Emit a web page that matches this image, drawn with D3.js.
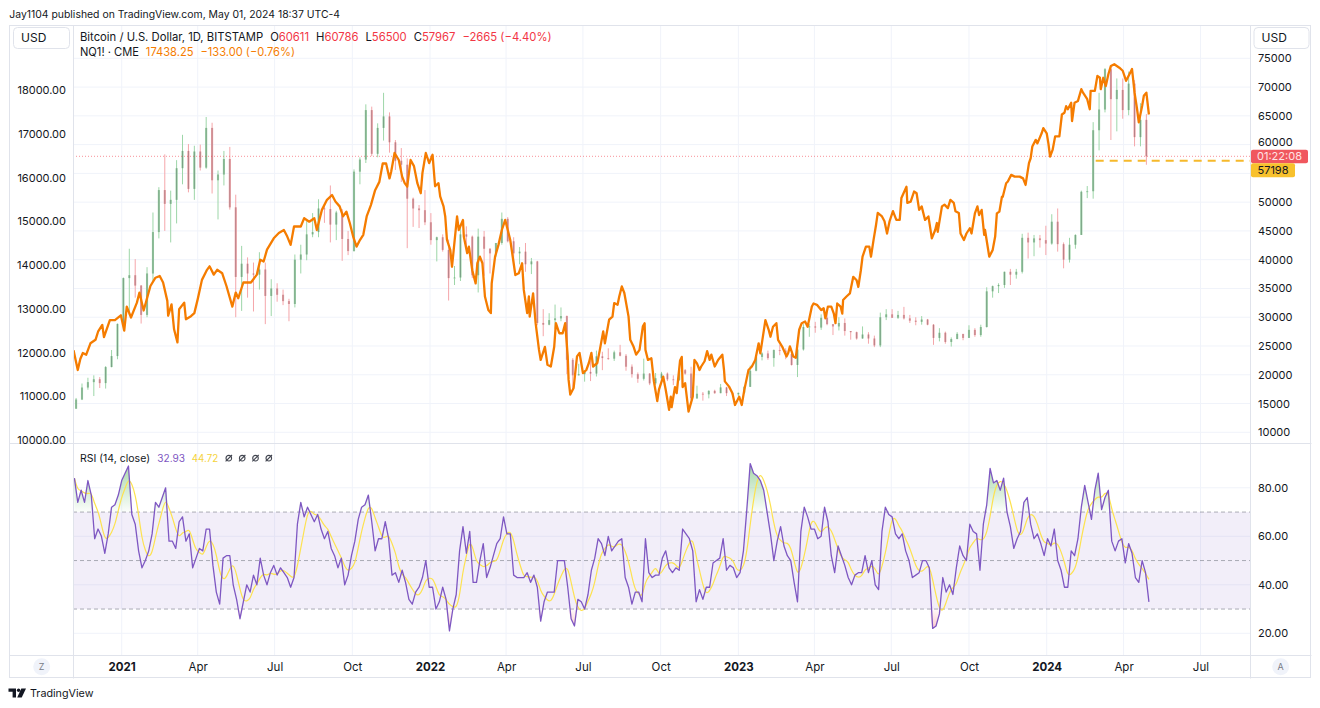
<!DOCTYPE html>
<html><head><meta charset="utf-8">
<script src="https://cdn.jsdelivr.net/npm/d3@7"></script>
<style>
html,body{margin:0;padding:0;background:#fff;}
svg{display:block;font-family:Inter,"Noto Sans","Liberation Sans",sans-serif;}
</style></head><body>
<svg id="c" width="1320" height="708"></svg>
<script>
// ---------------- DATA ----------------
const timeTickDates = ["2021-01-01","2021-04-01","2021-07-01","2021-10-01","2022-01-01","2022-04-01","2022-07-01","2022-10-01","2023-01-01","2023-04-01","2023-07-01","2023-10-01","2024-01-01","2024-04-01","2024-07-01"];
const timeTickLabels = ["2021","Apr","Jul","Oct","2022","Apr","Jul","Oct","2023","Apr","Jul","Oct","2024","Apr","Jul"];
const leftTicks = [10000,11000,12000,13000,14000,15000,16000,17000,18000];
const rightGrid = [10000,15000,20000,25000,30000,35000,40000,45000,50000,55000,60000,65000,70000,75000];
// 55000 label is hidden behind the price labels in the reference
const rightTickLabels = [10000,15000,20000,25000,30000,35000,40000,45000,50000,60000,65000,70000,75000];
const rsiTicks = [20,40,60,80];
const rsiLevels = [70,50,30];

// BTC weekly candles (open, high, low, close), weeks starting 2020-11-05
const btcWeekStart = "2020-11-05";
const btcWeeklyOHLC = [
[14100,15970,14100,15700],[15700,18480,15600,17780],[17780,19480,17400,18720],[18720,19900,16300,19220],[19220,19600,17700,18550],
[18550,21500,17600,21340],[21340,24300,21300,23250],[23250,28900,22700,28840],[28840,36900,27700,36800],[36800,41900,30400,37300],
[37300,40100,33400,35500],[35500,35600,28900,30400],[30400,38700,30000,37600],[37600,48200,36200,44800],[44800,52600,43700,52100],
[52100,58300,45000,49700],[49700,52000,43000,50400],[50400,57300,46300,55900],[55900,61700,53100,58900],[58900,60100,51700,52300],
[52300,59800,50400,58800],[58800,60000,55500,56000],[56000,64800,55800,62900],[62900,63800,51500,53800],[53800,55500,47000,54800],
[54800,58900,52900,57500],[57500,59600,48700,49100],[49100,51300,30000,37000],[37000,42400,31100,39300],[39300,40400,33400,37600],
[37600,39500,31000,37400],[37400,41300,34800,38300],[38300,39500,28800,33700],[33700,36600,30200,35000],[35000,35900,32700,33900],
[33900,34800,32100,32800],[32800,33200,29300,32300],[32300,40900,31700,40000],[40000,42600,37600,40900],[40900,46700,39900,44400],
[44400,48100,43900,44800],[44800,50500,43900,48900],[48900,49800,46400,48800],[48800,52900,43000,46100],[46100,48500,43400,48200],
[48200,48800,39800,43600],[43600,45000,40800,41500],[41500,55700,41400,55300],[55300,57800,53100,57400],[57400,67000,56800,66000],
[66000,66600,58000,58400],[58400,63700,57800,62900],[62900,69000,60700,64900],[64900,65600,58600,60400],[60400,60800,55600,57200],
[57200,59400,53500,56500],[56500,57600,42000,50600],[50600,50800,45700,48900],[48900,49500,45500,48600],[48600,52100,46000,46500],
[46500,48100,42600,43400],[43400,44000,39700,43900],[43900,44400,41400,41700],[41700,43500,32900,36800],[36800,38900,35600,36900],
[36900,45500,36300,44400],[44400,45800,41700,44000],[44000,44200,36800,37300],[37300,45400,34300,44000],[44000,45000,37200,41900],
[41900,42000,37600,41100],[41100,42900,40500,42900],[42900,48200,42600,47100],[47100,47400,43000,43200],[43200,43900,39300,41100],
[41100,42200,39200,41400],[41400,42900,37900,39200],[39200,40300,37500,39700],[39700,39800,28600,29000],[29000,31400,26700,28700],
[28700,30700,28600,29500],[29500,32200,28000,29800],[29800,31700,29300,30200],[30200,30300,20100,22600],[22600,22900,17600,19900],
[19900,21900,19900,20100],[20100,20800,18800,20500],[20500,22500,18900,20200],[20200,24200,19700,23200],[23200,24000,20800,22900],
[22900,24600,22600,22800],[22800,24200,22400,23900],[23900,25200,23200,23300],[23300,23600,20700,21400],[21400,21800,19500,20100],
[20100,20400,18600,19300],[19300,22800,19000,20200],[20200,20300,18200,18500],[18500,20300,18200,19400],[19400,20500,18900,20200],
[20200,20400,18900,19200],[19200,19900,18200,19100],[19100,20900,18900,20800],[20800,21000,20000,20200],[20200,21400,15600,15900],
[15900,18100,15800,16700],[16700,17000,15500,16600],[16600,17300,15900,17200],[17200,17400,16700,16800],[16800,18400,16800,17800],
[17800,17900,16300,16800],[16800,17000,16500,16600],[16600,16900,16300,16850],[16850,18000,16700,17900],[17900,21600,17900,20700],
[20700,23300,20600,23100],[23100,23900,22500,23700],[23700,24200,22600,22900],[22900,24400,21400,24300],[24300,25200,23400,24200],
[24200,24600,22700,23600],[23600,23800,21600,21700],[21700,26500,19600,24400],[24400,28800,24200,28300],[28300,28800,26600,28400],
[28400,29200,27300,28200],[28200,30500,27800,29900],[29900,31000,28600,28800],[28800,28800,26900,28400],[28400,30000,27700,29000],
[29000,29800,26800,27600],[27600,27600,26100,27400],[27400,27500,26100,26300],[26300,28400,26300,27000],[27000,27400,25400,26300],
[26300,26800,24800,25100],[25100,30800,24800,30000],[30000,31400,29500,30500],[30500,31400,29900,29900],[29900,31100,29700,30400],
[30400,31800,29600,29800],[29800,30400,29000,29400],[29400,30000,28600,29200],[29200,30200,28700,29600],[29600,29700,28600,28700],
[28700,28800,25200,26400],[26400,28100,25800,27300],[27300,27500,25400,25700],[25700,26500,24900,26200],[26200,27400,26200,27100],
[27100,27100,26000,26400],[26400,28600,26400,27800],[27800,28100,26600,26900],[26900,28700,26600,28300],[28300,35200,28200,34500],
[34500,35500,33400,35400],[35400,35900,34200,35600],[35600,37900,35100,37900],[37900,38400,35600,37400],[37400,38400,36700,37900],
[37900,44500,37600,43800],[43800,44700,40200,43000],[43000,44300,40600,43700],[43700,44300,42100,43400],[43400,45900,40800,42800],
[42800,47900,42600,46600],[46600,48900,41400,42700],[42700,43000,38500,40000],[40000,43800,39500,42600],[42600,44400,41900,44300],
[44300,52000,44300,51800],[51800,52800,50700,51900],[51900,63900,50600,62500],[62500,69000,59000,66100],[66100,73300,65600,73100],
[73100,73800,60800,67900],[67900,71500,62300,69500],[69500,71500,64500,66000],[66000,72700,65100,70600],[70600,71200,59700,61300],
[61300,67200,59700,64300],[64300,65300,56500,57967]
];

// NQ1! (CME) closes: [date, value]
const nqSeries = [
["2020-11-05",12050],["2020-11-10",11600],["2020-11-13",11850],["2020-11-16",11990],["2020-11-20",11950],["2020-11-25",12210],["2020-12-01",12290],["2020-12-04",12475],["2020-12-09",12630],["2020-12-11",12350],["2020-12-18",12740],["2020-12-24",12740],["2020-12-31",12850],
["2021-01-04",12500],["2021-01-07",13050],["2021-01-12",12800],["2021-01-19",13140],["2021-01-22",13370],["2021-01-27",12960],["2021-02-04",13520],["2021-02-10",13710],["2021-02-15",13750],["2021-02-19",13600],["2021-02-24",13180],["2021-02-25",12840],["2021-03-01",13100],["2021-03-04",12530],["2021-03-08",12230],["2021-03-10",12990],["2021-03-16",13140],["2021-03-18",12760],["2021-03-24",12830],["2021-03-28",12900],["2021-04-01",13220],["2021-04-06",13660],["2021-04-12",13890],["2021-04-15",13970],["2021-04-20",13780],["2021-04-24",13890],["2021-04-30",13810],["2021-05-05",13520],["2021-05-12",13050],["2021-05-16",13370],["2021-05-19",13240],["2021-05-25",13600],["2021-06-03",13600],["2021-06-10",13780],["2021-06-14",14120],["2021-06-18",14080],["2021-06-22",14350],["2021-06-30",14610],["2021-07-06",14730],["2021-07-12",14800],["2021-07-16",14650],["2021-07-20",14460],["2021-07-24",14880],["2021-08-01",14880],["2021-08-05",15070],["2021-08-11",14990],["2021-08-17",15070],["2021-08-20",14800],["2021-08-26",15260],["2021-09-01",15490],["2021-09-07",15600],["2021-09-11",15450],["2021-09-16",15340],["2021-09-20",15110],["2021-09-24",15220],["2021-09-28",14960],["2021-10-02",14650],["2021-10-06",14420],["2021-10-10",14570],["2021-10-14",14690],["2021-10-18",15110],["2021-10-23",15370],["2021-10-28",15710],["2021-11-02",15900],["2021-11-06",16320],["2021-11-10",16320],["2021-11-14",15980],["2021-11-16",16130],["2021-11-20",16560],["2021-11-25",16400],["2021-11-29",16020],["2021-12-02",15870],["2021-12-05",15790],["2021-12-09",16400],["2021-12-13",16260],["2021-12-17",15870],["2021-12-21",15640],["2021-12-23",16100],["2021-12-27",16560],["2021-12-31",16330],
["2022-01-04",16520],["2022-01-07",15800],["2022-01-11",15870],["2022-01-13",15570],["2022-01-17",15340],["2022-01-19",15110],["2022-01-21",14580],["2022-01-25",14340],["2022-01-27",13960],["2022-01-29",14340],["2022-02-02",15110],["2022-02-04",14800],["2022-02-09",15030],["2022-02-10",14650],["2022-02-14",14270],["2022-02-16",14420],["2022-02-20",13880],["2022-02-24",13580],["2022-02-26",14040],["2022-03-01",14190],["2022-03-04",14040],["2022-03-07",13280],["2022-03-11",12970],["2022-03-14",12900],["2022-03-15",13580],["2022-03-19",14190],["2022-03-23",14460],["2022-03-27",14800],["2022-03-31",15030],["2022-04-06",14570],["2022-04-10",14040],["2022-04-12",13770],["2022-04-16",13810],["2022-04-20",14040],["2022-04-22",13430],["2022-04-26",12900],["2022-04-28",13280],["2022-04-29",12820],["2022-05-03",13350],["2022-05-06",12670],["2022-05-10",12060],["2022-05-12",11830],["2022-05-17",12130],["2022-05-20",11720],["2022-05-24",11680],["2022-05-28",12130],["2022-05-30",12670],["2022-06-03",12440],["2022-06-07",12440],["2022-06-10",12670],["2022-06-13",11910],["2022-06-14",11380],["2022-06-16",11040],["2022-06-20",11190],["2022-06-24",11910],["2022-06-27",11990],["2022-07-01",11530],["2022-07-05",11600],["2022-07-08",11760],["2022-07-11",11990],["2022-07-13",11680],["2022-07-18",11760],["2022-07-21",12060],["2022-07-25",12480],["2022-07-27",12210],["2022-08-01",12750],["2022-08-05",12820],["2022-08-07",13130],["2022-08-11",13090],["2022-08-13",13280],["2022-08-16",13510],["2022-08-19",13360],["2022-08-24",12820],["2022-08-26",12290],["2022-08-30",12130],["2022-09-02",11950],["2022-09-06",12060],["2022-09-10",12600],["2022-09-12",12670],["2022-09-13",12060],["2022-09-16",11830],["2022-09-20",11870],["2022-09-23",11340],["2022-09-27",10890],["2022-09-29",11150],["2022-10-04",11450],["2022-10-07",11150],["2022-10-11",10690],["2022-10-13",10990],["2022-10-14",10750],["2022-10-18",11210],["2022-10-20",11070],["2022-10-24",11820],["2022-10-26",11900],["2022-10-27",11210],["2022-10-30",11300],["2022-11-03",10650],["2022-11-08",10990],["2022-11-10",11830],["2022-11-13",11750],["2022-11-16",11600],["2022-11-18",11680],["2022-11-22",11800],["2022-11-25",12030],["2022-11-28",11830],["2022-11-30",11950],["2022-12-04",11680],["2022-12-08",11830],["2022-12-13",11950],["2022-12-15",11600],["2022-12-16",11340],["2022-12-21",11220],["2022-12-25",11070],["2022-12-28",10800],
["2023-01-02",10990],["2023-01-05",10800],["2023-01-08",11140],["2023-01-13",11600],["2023-01-17",11680],["2023-01-21",11830],["2023-01-25",12210],["2023-01-27",11980],["2023-02-02",12740],["2023-02-06",12510],["2023-02-08",12360],["2023-02-11",12590],["2023-02-15",12670],["2023-02-17",12290],["2023-02-22",12130],["2023-02-27",11910],["2023-03-01",11990],["2023-03-03",12140],["2023-03-07",11910],["2023-03-10",11880],["2023-03-14",12520],["2023-03-17",12670],["2023-03-21",12710],["2023-03-24",12590],["2023-03-29",13050],["2023-03-31",13120],["2023-04-04",13090],["2023-04-09",12970],["2023-04-12",13010],["2023-04-14",12780],["2023-04-17",13050],["2023-04-21",13050],["2023-04-24",12890],["2023-04-26",12670],["2023-04-28",13120],["2023-05-02",13050],["2023-05-04",12890],["2023-05-05",13200],["2023-05-09",13280],["2023-05-13",13350],["2023-05-17",13730],["2023-05-21",13650],["2023-05-23",13500],["2023-05-26",13880],["2023-05-28",14190],["2023-06-01",14420],["2023-06-05",14420],["2023-06-07",14190],["2023-06-10",14570],["2023-06-13",14920],["2023-06-15",15190],["2023-06-20",15110],["2023-06-23",15000],["2023-06-26",14720],["2023-06-29",15000],["2023-07-03",15230],["2023-07-07",15030],["2023-07-11",15030],["2023-07-13",15530],["2023-07-19",15790],["2023-07-20",15420],["2023-07-24",15450],["2023-07-28",15680],["2023-07-31",15640],["2023-08-03",15260],["2023-08-06",15340],["2023-08-10",15030],["2023-08-14",15110],["2023-08-18",14610],["2023-08-22",14800],["2023-08-24",14960],["2023-08-25",14760],["2023-08-30",15340],["2023-09-02",15380],["2023-09-06",15300],["2023-09-09",15490],["2023-09-13",15420],["2023-09-15",15230],["2023-09-19",15190],["2023-09-21",14720],["2023-09-25",14570],["2023-09-28",14720],["2023-10-02",14840],["2023-10-04",14720],["2023-10-08",15180],["2023-10-11",15340],["2023-10-13",15140],["2023-10-16",15260],["2023-10-19",14690],["2023-10-20",14800],["2023-10-25",14190],["2023-10-29",14340],["2023-11-01",14650],["2023-11-03",15180],["2023-11-06",15220],["2023-11-09",15560],["2023-11-10",15560],["2023-11-14",15870],["2023-11-16",15910],["2023-11-20",16060],["2023-11-24",16020],["2023-11-30",16020],["2023-12-04",15980],["2023-12-07",15830],["2023-12-11",16330],["2023-12-13",16440],["2023-12-15",16710],["2023-12-19",16860],["2023-12-21",16780],["2023-12-26",17010],["2023-12-28",17130],
["2024-01-01",17010],["2024-01-03",16780],["2024-01-05",16480],["2024-01-08",16630],["2024-01-11",16940],["2024-01-16",16940],["2024-01-19",17440],["2024-01-22",17480],["2024-01-24",17630],["2024-01-26",17560],["2024-01-30",17710],["2024-01-31",17290],["2024-02-03",17710],["2024-02-07",17750],["2024-02-11",18020],["2024-02-13",17940],["2024-02-18",17790],["2024-02-21",17560],["2024-02-22",17980],["2024-02-27",17980],["2024-03-01",18320],["2024-03-04",18280],["2024-03-05",18020],["2024-03-08",18280],["2024-03-11",18090],["2024-03-14",18360],["2024-03-17",18550],["2024-03-21",18590],["2024-03-27",18510],["2024-03-31",18440],["2024-04-04",18210],["2024-04-09",18400],["2024-04-11",18480],["2024-04-14",17940],["2024-04-17",17560],["2024-04-19",17260],["2024-04-23",17640],["2024-04-25",17870],["2024-04-28",17940],["2024-05-01",17440]
];

// RSI(14, close) every 4 days starting 2020-11-06
const rsiStart = "2020-11-06";
const rsiStepDays = 4;
const rsiValues = [
84,74,79,74,83,77,59,63,60,53,61,72,73,77,83,86,89,69,65,54,
47,50,54,61,74,72,76,80,58,58,55,66,68,58,61,47,51,55,54,63,
63,48,37,32,51,52,52,40,34,26,33,40,37,44,40,51,44,40,45,48,
44,47,45,43,39,43,65,74,68,72,69,66,69,63,59,62,55,52,47,51,
40,44,52,58,67,72,73,77,66,54,59,59,66,59,44,45,41,46,41,34,
32,37,39,43,50,39,39,30,33,39,34,21,30,36,54,64,53,62,41,41,
50,57,43,47,52,57,59,68,61,61,44,43,43,43,45,41,44,39,25,33,
37,37,37,50,50,50,39,26,23,34,33,30,36,46,51,59,57,52,60,54,
56,58,59,43,39,32,37,37,33,59,45,43,44,44,51,54,47,45,47,46,
63,61,59,54,33,38,34,39,39,49,50,51,59,46,48,47,43,45,54,71,
90,86,85,83,79,70,61,50,58,64,56,52,50,41,33,62,72,68,63,63,
59,60,72,66,52,45,56,52,48,43,40,44,45,45,52,45,50,40,38,62,
72,69,68,61,59,61,54,50,43,44,45,50,50,47,22,23,28,43,37,40,
36,47,56,52,50,65,62,61,46,65,73,88,82,83,79,84,70,64,55,59,
62,74,76,65,59,61,57,52,59,56,63,50,46,39,39,54,52,59,72,81,
74,67,79,86,71,76,79,58,54,58,59,49,57,53,43,41,50,45,32.93
];
const rsiLastValue = "32.93";
const rsiMALastValue = "44.72";

const lastPrice = 57967;
const hLineValue = 57198;
const hLineStart = "2024-02-28";

// ---------------- DRAW ----------------
const parse = d3.utcParse("%Y-%m-%d");
const DAY = 864e5;
const P = {l:73, r:1250, t:25, mb:443, rb:655, fl:9, fr:1311, fb:678};
const x = d3.scaleUtc().domain([parse("2021-01-01"), parse("2024-01-01")]).range([121.7, 1046.7]);
const yB = d3.scaleLinear().domain([10000,75000]).range([432.3,58.3]);
const yN = d3.scaleLinear().domain([10000,18000]).range([440,90]);
const yR = d3.scaleLinear().domain([20,80]).range([633.3,487.8]);

const TXT = "#131722", BORDER = "#e0e3eb", GRID = "#f0f3fa";
const svg = d3.select("#c");
const defs = svg.append("defs");
defs.append("clipPath").attr("id","cm").append("rect").attr("x",P.l).attr("y",P.t).attr("width",P.r-P.l).attr("height",P.mb-P.t);
defs.append("clipPath").attr("id","cr").append("rect").attr("x",P.l).attr("y",P.mb).attr("width",P.r-P.l).attr("height",P.rb-P.mb);
const gG = defs.append("linearGradient").attr("id","gOB").attr("gradientUnits","userSpaceOnUse").attr("x1",0).attr("x2",0).attr("y1",yR(92)).attr("y2",yR(70));
gG.append("stop").attr("offset",0).attr("stop-color","#4caf50").attr("stop-opacity",0.55);
gG.append("stop").attr("offset",1).attr("stop-color","#4caf50").attr("stop-opacity",0.02);
const gR = defs.append("linearGradient").attr("id","gOS").attr("gradientUnits","userSpaceOnUse").attr("x1",0).attr("x2",0).attr("y1",yR(30)).attr("y2",yR(15));
gR.append("stop").attr("offset",0).attr("stop-color","#f23645").attr("stop-opacity",0.02);
gR.append("stop").attr("offset",1).attr("stop-color","#f23645").attr("stop-opacity",0.5);

function fit(t, w){ const fs=parseFloat(t.attr("font-size")); const cw=t.node().getComputedTextLength(); if(cw>0) t.attr("font-size", (fs*w/cw).toFixed(2)); return t; }

// grid
const tDates = timeTickDates.map(parse);
svg.append("g").selectAll("line").data(tDates).join("line")
  .attr("x1",d=>x(d)).attr("x2",d=>x(d)).attr("y1",P.t).attr("y2",P.rb).attr("stroke",GRID);
svg.append("g").selectAll("line").data(rightGrid).join("line")
  .attr("x1",P.l).attr("x2",P.r).attr("y1",d=>yB(d)).attr("y2",d=>yB(d)).attr("stroke",GRID);
svg.append("g").selectAll("line").data(rsiTicks).join("line")
  .attr("x1",P.l).attr("x2",P.r).attr("y1",d=>yR(d)).attr("y2",d=>yR(d)).attr("stroke",GRID);

// RSI band + levels
const rp = svg.append("g").attr("clip-path","url(#cr)");
rp.append("rect").attr("x",P.l).attr("width",P.r-P.l).attr("y",yR(70)).attr("height",yR(30)-yR(70)).attr("fill","#7e57c2").attr("fill-opacity",0.1);
rp.selectAll("line.lv").data(rsiLevels).join("line").attr("class","lv")
  .attr("x1",P.l).attr("x2",P.r).attr("y1",d=>yR(d)).attr("y2",d=>yR(d))
  .attr("stroke","#787b86").attr("stroke-opacity",0.6).attr("stroke-dasharray","4,3");

// candles
const ws = parse(btcWeekStart);
const candles = btcWeeklyOHLC.map((r,i)=>({t:new Date(+ws + (i*7+3)*DAY), o:r[0],h:r[1],l:r[2],c:r[3]}));
const bw = (x(new Date(+ws+7*DAY)) - x(ws))*0.36;
const mp = svg.append("g").attr("clip-path","url(#cm)");
const cg = mp.append("g");
const col = d=> d.c>=d.o ? "#9dd6a8" : "#f5a6aa";
cg.selectAll("line").data(candles).join("line")
  .attr("x1",d=>x(d.t)).attr("x2",d=>x(d.t)).attr("y1",d=>yB(d.h)).attr("y2",d=>yB(d.l))
  .attr("stroke",col).attr("stroke-width",1);
cg.selectAll("rect").data(candles).join("rect")
  .attr("x",d=>x(d.t)-bw/2).attr("width",bw)
  .attr("y",d=>yB(Math.max(d.o,d.c))).attr("height",d=>Math.max(1,Math.abs(yB(d.o)-yB(d.c))))
  .attr("fill",col);
cg.selectAll("line.bd").data(candles).join("line").attr("class","bd")
  .attr("x1",d=>x(d.t)).attr("x2",d=>x(d.t))
  .attr("y1",d=>yB(Math.max(d.o,d.c))).attr("y2",d=>yB(Math.min(d.o,d.c)))
  .attr("stroke","#3a3d46").attr("stroke-opacity",0.45).attr("stroke-width",0.8);

// price line
mp.append("line").attr("x1",P.l).attr("x2",P.r).attr("y1",yB(lastPrice)).attr("y2",yB(lastPrice))
  .attr("stroke","#f23645").attr("stroke-opacity",0.55).attr("stroke-dasharray","1,2");

// NQ line
const nq = nqSeries.map(d=>({t:parse(d[0]), v:d[1]}));
mp.append("path").datum(nq).attr("fill","none").attr("stroke","#f57c00").attr("stroke-width",2.3)
  .attr("stroke-linejoin","round").attr("d", d3.line().x(d=>x(d.t)).y(d=>yN(d.v)));

// horizontal ray
svg.append("line").attr("x1",x(parse(hLineStart))).attr("x2",P.r).attr("y1",yB(hLineValue)).attr("y2",yB(hLineValue))
  .attr("stroke","#f6b92b").attr("stroke-width",2).attr("stroke-dasharray","8,6");

// RSI
const rs = parse(rsiStart);
const rsi = rsiValues.map((v,i)=>({t:new Date(+rs + i*rsiStepDays*DAY), v}));
const rsiMA = rsi.map((d,i)=>({t:d.t, v:d3.mean(rsiValues.slice(Math.max(0,i-3), i+1))}));
rp.append("path").datum(rsi).attr("fill","url(#gOB)")
  .attr("d", d3.area().x(d=>x(d.t)).y0(yR(70)).y1(d=>yR(Math.max(70,d.v))));
rp.append("path").datum(rsi).attr("fill","url(#gOS)")
  .attr("d", d3.area().x(d=>x(d.t)).y0(yR(30)).y1(d=>yR(Math.min(30,d.v))));
rp.append("path").datum(rsiMA).attr("fill","none").attr("stroke","#fde24f").attr("stroke-width",1.2)
  .attr("d", d3.line().curve(d3.curveBasis).x(d=>x(d.t)).y(d=>yR(d.v)));
rp.append("path").datum(rsi).attr("fill","none").attr("stroke","#7e57c2").attr("stroke-width",1.3)
  .attr("stroke-linejoin","round").attr("d", d3.line().x(d=>x(d.t)).y(d=>yR(d.v)));

// frame & separators
svg.append("rect").attr("x",P.fl+0.5).attr("y",P.t+0.5).attr("width",P.fr-P.fl-1).attr("height",P.fb-P.t-1).attr("fill","none").attr("stroke",BORDER);
[[P.l,P.t,P.l,P.fb],[P.r,P.t,P.r,P.fb],[P.fl,P.mb,P.fr,P.mb],[P.fl,P.rb,P.fr,P.rb]].forEach(a=>{
  svg.append("line").attr("x1",a[0]+0.5).attr("y1",a[1]+0.5).attr("x2",a[2]+0.5).attr("y2",a[3]+0.5).attr("stroke",BORDER);
});

// axes
function styleAxis(g, fs){ g.select(".domain").remove(); g.selectAll(".tick line").remove();
  g.selectAll("text").attr("fill",TXT).attr("font-size",fs).attr("font-family","Inter,sans-serif"); }
const axR = svg.append("g").attr("transform",`translate(${P.r},0)`)
  .call(d3.axisRight(yB).tickValues(rightTickLabels).tickFormat(d3.format("d")).tickSize(0).tickPadding(8));
styleAxis(axR, 11);
axR.selectAll("text").attr("dy", d=> d===60000 ? "0.1em" : "0.32em");
const axL = svg.append("g").attr("transform",`translate(${P.l},0)`)
  .call(d3.axisLeft(yN).tickValues(leftTicks).tickFormat(d3.format(".2f")).tickSize(0).tickPadding(7));
styleAxis(axL, 11);
const axRs = svg.append("g").attr("transform",`translate(${P.r},0)`)
  .call(d3.axisRight(yR).tickValues(rsiTicks).tickFormat(d3.format(".2f")).tickSize(0).tickPadding(8));
styleAxis(axRs, 11);
const axB = svg.append("g").attr("transform",`translate(0,${P.rb})`)
  .call(d3.axisBottom(x).tickValues(tDates).tickFormat((d,i)=>timeTickLabels[i]).tickSize(0).tickPadding(8));
styleAxis(axB, 11.5);
axB.selectAll("text").attr("dy","0.71em").attr("font-weight",(d,i)=>/^\d{4}$/.test(timeTickLabels[i])?700:400);

// price labels
const lpY = yB(lastPrice);
svg.append("rect").attr("x",1251).attr("y",lpY-6.5).attr("width",57).attr("height",13.5).attr("rx",2).attr("fill","#f0575e");
svg.append("text").attr("x",1279.5).attr("y",lpY+0.3).attr("dy","0.35em").attr("text-anchor","middle").attr("font-size",11).attr("fill","#ffe3e4").text("01:22:08");
svg.append("rect").attr("x",1251).attr("y",lpY+7).attr("width",44).attr("height",14).attr("rx",2).attr("fill","#f8c12d");
svg.append("text").attr("x",1273).attr("y",lpY+14).attr("dy","0.35em").attr("text-anchor","middle").attr("font-size",11).attr("fill",TXT).text(d3.format("d")(hLineValue));

// USD boxes
[[13,56],[1253.5,55]].forEach(b=>{
  svg.append("rect").attr("x",b[0]+0.5).attr("y",27.5).attr("width",b[1]).attr("height",21).attr("rx",4).attr("fill","#fff").attr("stroke",BORDER);
  svg.append("text").attr("x",b[0]+8).attr("y",38).attr("dy","0.35em").attr("font-size",12).attr("fill",TXT).text("USD");
});

// header
fit(svg.append("text").attr("x",9.3).attr("y",18).attr("font-size",12).attr("fill",TXT)
  .text("Jay1104 published on TradingView.com, May 01, 2024 18:37 UTC-4"), 331);

// legend line 1
const RED="#f23645", ORG="#f57c00";
const l1 = svg.append("text").attr("x",80).attr("y",41).attr("font-size",12).attr("fill",TXT);
l1.append("tspan").text("Bitcoin / U.S. Dollar, 1D, BITSTAMP");
[["O","60611"],["H","60786"],["L","56500"],["C","57967"]].forEach(p=>{
  l1.append("tspan").attr("dx",7).text(p[0]); l1.append("tspan").attr("fill",RED).text(p[1]); });
l1.append("tspan").attr("dx",7).attr("fill",RED).text("−2665 (−4.40%)");
fit(l1, 437);
const l2 = svg.append("text").attr("x",80).attr("y",55.5).attr("font-size",12).attr("fill",TXT);
l2.append("tspan").text("NQ1! · CME");
l2.append("tspan").attr("dx",7).attr("fill",ORG).text("17438.25");
l2.append("tspan").attr("dx",7).attr("fill",ORG).text("−133.00 (−0.76%)");
fit(l2, 201);

// RSI legend (pieces placed as in the reference)
const rl = svg.append("g");
fit(rl.append("text").attr("x",80).attr("y",462).attr("font-size",12).attr("fill",TXT).text("RSI (14, close)"), 70);
fit(rl.append("text").attr("x",157.3).attr("y",462).attr("font-size",12).attr("fill","#7e57c2").text(rsiLastValue), 27.7);
fit(rl.append("text").attr("x",191.7).attr("y",462).attr("font-size",12).attr("fill","#f5d33b").text(rsiMALastValue), 26.6);
[228.8,242.2,255.5,268.8].forEach(cx=>{
  const ic = rl.append("g").attr("transform",`translate(${cx},458.2)`).attr("fill","none").attr("stroke","#434651").attr("stroke-width",1.1);
  ic.append("circle").attr("r",2.8);
  ic.append("line").attr("x1",-3.2).attr("y1",3.2).attr("x2",3.2).attr("y2",-3.2);
});

// Z / A buttons
[[41.7,"Z"],[1280.7,"A"]].forEach(b=>{
  svg.append("circle").attr("cx",b[0]).attr("cy",666.7).attr("r",8.5).attr("fill","#f0f3fa");
  svg.append("text").attr("x",b[0]).attr("y",666.7).attr("dy","0.35em").attr("text-anchor","middle").attr("font-size",9).attr("fill","#787b86").text(b[1]);
});

// footer logo
const lg = svg.append("g").attr("fill",TXT);
lg.append("path").attr("d","M8.5 688.5h7.5v9h-3.4v-5.8h-4.1z");
lg.append("circle").attr("cx",18.6).attr("cy",690.2).attr("r",1.7);
lg.append("path").attr("d","M21.3 688.5h4.7l-4.3 9h-4.5z");
fit(svg.append("text").attr("x",30).attr("y",697).attr("font-size",13).attr("fill",TXT).text("TradingView"), 63.5);
</script>
</body></html>
